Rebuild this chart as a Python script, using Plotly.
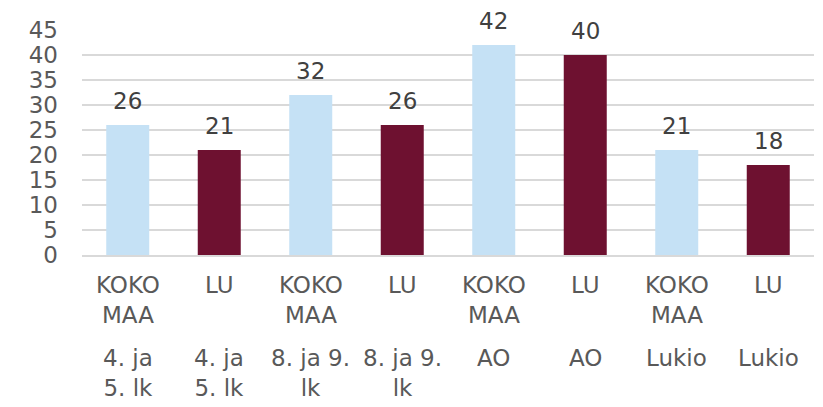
import plotly.graph_objects as go

groups = ["KOKO MAA", "LU", "KOKO MAA", "LU", "KOKO MAA", "LU", "KOKO MAA", "LU"]
levels = ["4. ja 5. lk", "4. ja 5. lk", "8. ja 9. lk", "8. ja 9. lk", "AO", "AO", "Lukio", "Lukio"]
values = [26, 21, 32, 26, 42, 40, 21, 18]
top_text = ["KOKO<br>MAA", "LU", "KOKO<br>MAA", "LU", "KOKO<br>MAA", "LU", "KOKO<br>MAA", "LU"]
bottom_text = ["4. ja<br>5. lk", "4. ja<br>5. lk", "8. ja 9.<br>lk", "8. ja 9.<br>lk", "AO", "AO", "Lukio", "Lukio"]

colors = ["#C5E1F5" if g == "KOKO MAA" else "#6E1130" for g in groups]
x = list(range(len(values)))

FONT = "DejaVu Sans"
FS = 23
fig = go.Figure()
fig.add_trace(go.Bar(
    x=x, y=values, marker=dict(color=colors, line=dict(width=0)),
    width=0.47, hoverinfo="y",
))

annotations = []
for i in x:
    annotations.append(dict(x=i, y=values[i], xref="x", yref="y", text=str(values[i]),
                            showarrow=False, yanchor="bottom", yshift=9,
                            font=dict(family=FONT, size=FS, color="#404040")))
    annotations.append(dict(x=i, y=0, xref="x", yref="paper", text=top_text[i],
                            showarrow=False, yanchor="top", yshift=-15,
                            font=dict(family=FONT, size=FS, color="#595959")))
    annotations.append(dict(x=i, y=0, xref="x", yref="paper", text=bottom_text[i],
                            showarrow=False, yanchor="top", yshift=-88,
                            font=dict(family=FONT, size=FS, color="#595959")))

fig.update_layout(
    width=815, height=399,
    margin=dict(l=74, r=9, t=19, b=152),
    paper_bgcolor="white", plot_bgcolor="white",
    showlegend=False,
    annotations=annotations,
    xaxis=dict(range=[-0.5, 7.5], showticklabels=False, showgrid=False, zeroline=False,
               showline=True, linecolor="#d9d9d9", linewidth=2),
    yaxis=dict(range=[0, 45], dtick=5, showgrid=True, gridcolor="#d9d9d9", gridwidth=1.5,
               zeroline=False, tickfont=dict(family=FONT, size=FS, color="#595959"),
               ticks="", ticklabelstandoff=23),
)
fig.write_html("out.html")
